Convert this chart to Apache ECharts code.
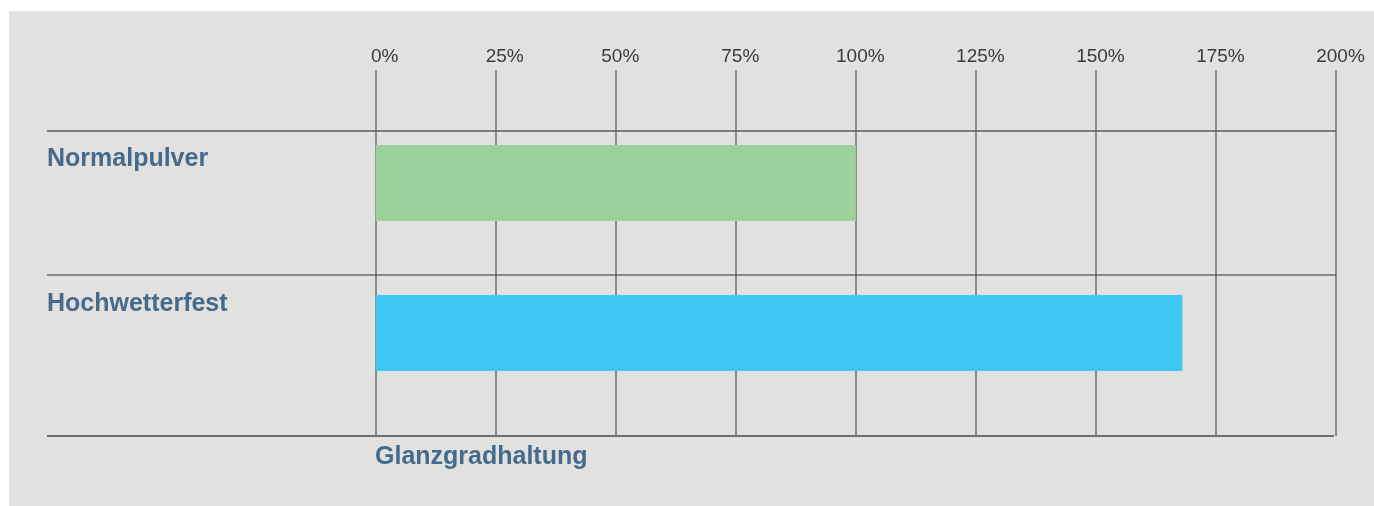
<!DOCTYPE html>
<html>
<head>
<meta charset="utf-8">
<script src="https://cdn.jsdelivr.net/npm/echarts@6/dist/echarts.min.js"></script>
<style>
  html, body { margin: 0; padding: 0; background: #ffffff; }
  #chart { position: absolute; left: 9px; top: 11px; width: 1365px; height: 495px; background: #e1e1df; }
</style>
</head>
<body>
<div id="chart"></div>
<script>
// ---- data ----
const categories = ['Normalpulver', 'Hochwetterfest'];
const values = [100, 168];
const barColors = ['#9dd19b', '#40c8f4'];
const axisMin = 0;
const axisMax = 200;
const tickInterval = 25;
const axisTitle = 'Glanzgradhaltung';

const labelColor = '#466a8b';
const fontFam = '"Liberation Sans", Arial, Helvetica, sans-serif';

const chart = echarts.init(document.getElementById('chart'), null, { renderer: 'canvas' });
const gridLeft = 366.7, gridRight = 38;

const option = {
  animation: false,
  grid: [
    { left: gridLeft, right: gridRight, top: 59, bottom: 70, containLabel: false, outerBoundsMode: 'none' },
    { left: gridLeft, right: gridRight, top: 97, bottom: 98, containLabel: false, outerBoundsMode: 'none' }
  ],
  xAxis: [
    {
      gridIndex: 0, type: 'value', position: 'top', min: axisMin, max: axisMax, interval: tickInterval,
      axisLine: { show: false }, axisTick: { show: false },
      axisLabel: {
        formatter: function (v) { return (v < 50 ? '{w|' : '{n|') + v + '%}'; },
        color: '#3a3a3a', fontSize: 19, fontFamily: fontFam, margin: 4,
        rich: {
          n: { padding: [0, 0, 0, 9], color: '#3a3a3a', fontSize: 19, fontFamily: fontFam },
          w: { padding: [0, 0, 0, 18], color: '#3a3a3a', fontSize: 19, fontFamily: fontFam }
        }
      },
      splitLine: { show: true, lineStyle: { color: '#6e6e6e', width: 1.5 } }
    },
    {
      gridIndex: 1, type: 'value', min: axisMin, max: axisMax, interval: tickInterval, show: false,
      splitLine: { show: false }
    }
  ],
  yAxis: [
    {
      gridIndex: 0, type: 'value', show: false, min: 0, max: 1, splitLine: { show: false }
    },
    {
      gridIndex: 1, type: 'category', inverse: true,
      data: categories,
      axisLine: { show: false }, axisTick: { show: false }, splitLine: { show: false },
      axisLabel: {
        align: 'left', verticalAlign: 'middle', margin: gridLeft - 38,
        color: labelColor, fontSize: 25, fontWeight: 'bold', fontFamily: fontFam,
        formatter: function (v, i) { return (i === 0 ? '{a|' : '{b|') + v + '}'; },
        rich: {
          a: { padding: [0, 0, 48, 0], color: labelColor, fontSize: 25, fontWeight: 'bold', fontFamily: fontFam, align: 'left' },
          b: { padding: [0, 0, 57, 0], color: labelColor, fontSize: 25, fontWeight: 'bold', fontFamily: fontFam, align: 'left' }
        }
      }
    }
  ],
  series: [{
    type: 'bar', xAxisIndex: 1, yAxisIndex: 1,
    data: values.map((v, i) => ({ value: v, itemStyle: { color: barColors[i] } })),
    barWidth: 76, z: 1
  }],
  graphic: [
    { type: 'line', shape: { x1: 38, y1: 120, x2: 1327, y2: 120 }, style: { stroke: '#5a5a5a', lineWidth: 1.5 }, z: 5 },
    { type: 'line', shape: { x1: 38, y1: 264, x2: 1327, y2: 264 }, style: { stroke: '#333333', lineWidth: 1.2 }, z: 5 },
    { type: 'line', shape: { x1: 38, y1: 425, x2: 1325, y2: 425 }, style: { stroke: '#6e6e6e', lineWidth: 2 }, z: 5 },
    { type: 'text', x: 366, y: 446, style: { text: axisTitle, fill: labelColor, font: 'bold 25px ' + fontFam, textVerticalAlign: 'middle' }, z: 5 }
  ]
};
chart.setOption(option);
</script>
</body>
</html>
